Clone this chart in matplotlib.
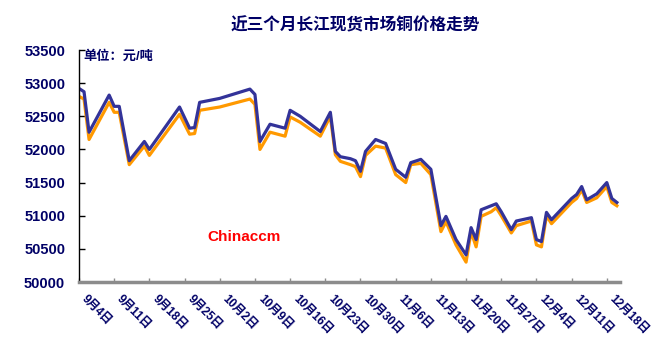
# copper spot price trend, Changjiang market, last three months
import matplotlib
matplotlib.use('Agg')
import matplotlib.pyplot as plt
import matplotlib.transforms as mtransforms
import numpy as np

plt.rcParams['font.family'] = ['Liberation Sans', 'Noto Sans CJK SC']

dates = ['2013-09-04', '2013-09-05', '2013-09-06', '2013-09-10', '2013-09-11', '2013-09-12',
         '2013-09-14', '2013-09-17', '2013-09-18', '2013-09-24', '2013-09-26', '2013-09-27',
         '2013-09-28', '2013-10-02', '2013-10-08', '2013-10-09', '2013-10-10', '2013-10-12',
         '2013-10-15', '2013-10-16', '2013-10-18', '2013-10-22', '2013-10-24', '2013-10-25',
         '2013-10-26', '2013-10-28', '2013-10-29', '2013-10-30', '2013-10-31', '2013-11-02',
         '2013-11-04', '2013-11-06', '2013-11-08', '2013-11-09', '2013-11-11', '2013-11-13',
         '2013-11-15', '2013-11-16', '2013-11-18', '2013-11-20', '2013-11-21', '2013-11-22',
         '2013-11-23', '2013-11-25', '2013-11-26', '2013-11-27', '2013-11-29', '2013-11-30',
         '2013-12-03', '2013-12-04', '2013-12-05', '2013-12-06', '2013-12-07', '2013-12-11',
         '2013-12-12', '2013-12-13', '2013-12-14', '2013-12-16', '2013-12-18', '2013-12-19',
         '2013-12-20']

high = [52920, 52870, 52260, 52820, 52650, 52650, 51830, 52120, 52000, 52640, 52320, 52330,
        52710, 52770, 52910, 52830, 52120, 52380, 52320, 52590, 52500, 52270, 52560, 51970,
        51890, 51860, 51830, 51670, 51970, 52150, 52090, 51700, 51580, 51800, 51850, 51700,
        50850, 50990, 50640, 50410, 50820, 50640, 51090, 51150, 51180, 51060, 50790, 50920,
        50970, 50640, 50610, 51050, 50940, 51260, 51320, 51440, 51240, 51330, 51500, 51260,
        51200]

low = [52800, 52760, 52150, 52710, 52560, 52560, 51770, 52050, 51910, 52530, 52230, 52240,
       52590, 52640, 52760, 52680, 52000, 52260, 52200, 52490, 52410, 52200, 52500, 51920,
       51820, 51770, 51740, 51590, 51910, 52050, 52020, 51620, 51500, 51770, 51790, 51620,
       50760, 50910, 50560, 50300, 50760, 50530, 50990, 51060, 51120, 51000, 50740, 50850,
       50920, 50560, 50530, 51000, 50880, 51200, 51260, 51390, 51200, 51270, 51440, 51200,
       51150]

tick_dates = ['2013-09-04', '2013-09-11', '2013-09-18', '2013-09-25', '2013-10-02', '2013-10-09',
              '2013-10-16', '2013-10-23', '2013-10-30', '2013-11-06', '2013-11-13', '2013-11-20',
              '2013-11-27', '2013-12-04', '2013-12-11', '2013-12-18']
tick_labels = ['9月4日', '9月11日', '9月18日', '9月25日', '10月2日', '10月9日', '10月16日',
               '10月23日', '10月30日', '11月6日', '11月13日', '11月20日', '11月27日',
               '12月4日', '12月11日', '12月18日']

navy = '#000066'

x = np.array(dates, dtype='datetime64[D]')
xt = np.array(tick_dates, dtype='datetime64[D]')

fig = plt.figure(figsize=(6.7, 3.54), dpi=100)
ax = fig.add_axes([79 / 670, 1 - 282 / 354, 541 / 670, 232 / 354])

ax.plot(x, low, color='#FF9900', lw=2.3, solid_joinstyle='round')
ax.plot(x, high, color='#333399', lw=2.3, solid_joinstyle='round')

ax.set_ylim(50000, 53500)
ax.set_yticks(np.arange(50000, 53501, 500))
ax.set_xlim(np.datetime64('2013-09-04'), np.datetime64('2013-09-04') + np.timedelta64(2583, 'h'))
ax.set_xticks(xt)
ax.set_xticklabels(tick_labels)

for s in ['top', 'right']:
    ax.spines[s].set_visible(False)
ax.spines['left'].set_linewidth(1.0)
ax.spines['bottom'].set_color('#8c8c8c')
ax.spines['bottom'].set_linewidth(2.5)

ax.tick_params(axis='y', direction='in', length=4, width=1, pad=10,
               labelsize=10.5, labelcolor=navy)
for lab in ax.get_yticklabels():
    lab.set_fontweight('bold')

ax.tick_params(axis='x', direction='in', length=3, width=1, color='#8c8c8c', pad=3,
               labelsize=8.5, labelcolor=navy)
offset = mtransforms.ScaledTranslation(9 / 100, -7 / 100, fig.dpi_scale_trans)
for lab in ax.get_xticklabels():
    lab.set_rotation(-45)
    lab.set_rotation_mode('anchor')
    lab.set_ha('left')
    lab.set_va('top')
    lab.set_fontweight('bold')
    lab.set_transform(lab.get_transform() + offset)

fig.text(355 / 670, 1 - 25 / 354, '近三个月长江现货市场铜价格走势', ha='center', va='center',
         fontsize=12, fontweight='bold', color=navy)
fig.text(83 / 670, 1 - 57 / 354, '单位：元/吨', ha='left', va='center',
         fontsize=9.5, fontweight='bold', color=navy)
fig.text(207 / 670, 1 - 237 / 354, 'Chinaccm', ha='left', va='center',
         fontsize=11, fontweight='bold', color='#FF0000')

fig.savefig('out.png', dpi=100)
